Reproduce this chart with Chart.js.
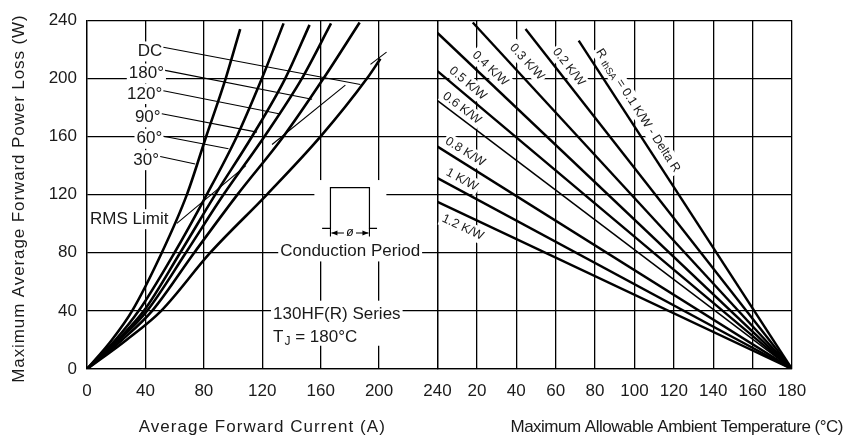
<!DOCTYPE html>
<html>
<head>
<meta charset="utf-8">
<script src="https://cdn.jsdelivr.net/npm/chart.js@4.4.1/dist/chart.umd.min.js"></script>
<style>
  html, body { margin: 0; padding: 0; background: #fff; }
  #wrap { width: 850px; height: 438px; }
</style>
</head>
<body>
<div id="wrap"><canvas id="lossChart"></canvas></div>
<script>
// tick labels
const lossTicks = [0, 40, 80, 120, 160, 200, 240];
const currentTicks = [0, 40, 80, 120, 160, 200, 240];
const ambientTicks = [0, 20, 40, 60, 80, 100, 120, 140, 160, 180];

// left panel: average current (A) read where each curve crosses these losses (W)
const lossLevels = [0, 20, 40, 80, 120, 160, 200];
const current30 = [0, 17, 30.9, 51.2, 68.4, 81.6, 95];
const current60 = [0, 19.5, 35.4, 59.9, 82, 102.6, 119.8];
const current90 = [0, 21, 38.9, 63.8, 87.8, 113, 135.8];
const current120 = [0, 22, 41.1, 67.7, 93.5, 121.5, 147.2];
const current180 = [0, 24, 44.6, 73.4, 103, 134.5, 162];
const currentDC = [0, 27, 50.8, 84.4, 123.2, 160, 191.8];
// where each curve stops
const curveEndI = [104.9, 134.6, 152.4, 167.1, 186.7, 200.9];
const curveEndP = [233.9, 237.8, 236.8, 237.8, 238.4, 213.5];

// RMS limit marks (A, W)
const rmsFromI = [61.5, 126.7, 194.1];
const rmsFromP = [100.2, 154.5, 209.6];
const rmsToI = [108.8, 176.9, 205.1];
const rmsToP = [139.9, 195.3, 218];

// conduction angle labels and their leaders, top to bottom
const angleNames = ['DC', '180°', '120°', '90°', '60°', '30°'];
const leaderFromI = [52.3, 53.5, 52.3, 51.2, 52.3, 50.1];
const leaderFromP = [221.4, 205.5, 191.5, 175.6, 160.2, 146.2];
const leaderToI = [187.2, 154.1, 132.3, 116.4, 96.9, 74.1];
const leaderToP = [195.8, 185.6, 175.4, 163, 151.6, 141];

// conduction period pulse sketch
const pulseI = [161, 166.7, 166.7, 193.4, 193.4, 198.6];
const pulseP = [96.7, 96.7, 124.8, 124.8, 96.7, 96.7];

// right panel: heatsink resistance lines, start point -> (TJ, 0)
const junctionT = 180;
const sinkNames = ['0.1', '0.2', '0.3', '0.4', '0.5', '0.6', '0.8', '1', '1.2'];
const sinkStartT = [71.7, 44.7, 17.9, 0, 0, 0, 0, 0, 0];
const sinkStartP = [226, 233.9, 238.4, 231.2, 204.9, 184.7, 153, 131.4, 115];

const FONT = "'Liberation Sans', Arial, sans-serif";
const INK = '#1a1a1a';

function pts(xs, ys) {
  return xs.map((x, i) => ({ x: x, y: ys[i] }));
}

const datasets = [];
[current30, current60, current90, current120, current180, currentDC].forEach((cur, k) => {
  const d = pts(cur, lossLevels);
  d.push({ x: curveEndI[k], y: curveEndP[k] });
  datasets.push({ data: d, xAxisID: 'xL', borderWidth: 2.6, cubicInterpolationMode: 'monotone' });
});
rmsFromI.forEach((x, k) => {
  datasets.push({ data: pts([x, rmsToI[k]], [rmsFromP[k], rmsToP[k]]), xAxisID: 'xL', borderWidth: 1.1 });
});
leaderFromI.forEach((x, k) => {
  datasets.push({ data: pts([x, leaderToI[k]], [leaderFromP[k], leaderToP[k]]), xAxisID: 'xL', borderWidth: 1.1 });
});
datasets.push({ data: pts(pulseI, pulseP), xAxisID: 'xL', borderWidth: 1.2 });
sinkNames.forEach((n, k) => {
  datasets.push({
    data: pts([sinkStartT[k], junctionT], [sinkStartP[k], 0]),
    xAxisID: 'xR',
    borderWidth: n === '0.6' ? 1.5 : 2.4
  });
});
datasets.forEach(ds => {
  ds.yAxisID = 'y';
  ds.borderColor = '#000';
  ds.pointRadius = 0;
  ds.fill = false;
});

function boxedText(ctx, text, x, y, align) {
  const w = ctx.measureText(text).width;
  const left = align === 'right' ? x - w : align === 'center' ? x - w / 2 : x;
  ctx.fillStyle = '#fff';
  ctx.fillRect(left - 2, y - 10, w + 4, 20);
  ctx.fillStyle = INK;
  ctx.textAlign = align;
  ctx.textBaseline = 'middle';
  ctx.fillText(text, x, y);
}

const notes = {
  id: 'notes',
  beforeDatasetsDraw(chart) {
    const { ctx } = chart;
    const xL = chart.scales.xL, xR = chart.scales.xR, y = chart.scales.y;
    ctx.save();
    ctx.fillStyle = '#fff';
    // clear the grid around the pulse sketch and the series note
    [[155.7, 205, 87, 130], [126, 213, 16, 47]].forEach(b => {
      const x0 = xL.getPixelForValue(b[0]), x1 = xL.getPixelForValue(b[1]);
      const y0 = y.getPixelForValue(b[3]), y1 = y.getPixelForValue(b[2]);
      ctx.fillRect(x0, y0, x1 - x0, y1 - y0);
    });

    ctx.font = '17px ' + FONT;
    const labelP = [218.5, 203.3, 189.2, 173.2, 158.4, 143.7];
    angleNames.forEach((n, k) => {
      boxedText(ctx, n, xL.getPixelForValue(leaderFromI[k] - 0.8), y.getPixelForValue(labelP[k]), 'right');
    });
    boxedText(ctx, 'RMS Limit', xL.getPixelForValue(rmsFromI[0] - 5.7), y.getPixelForValue(103.1), 'right');
    boxedText(ctx, 'Conduction Period', xL.getPixelForValue(180.2), y.getPixelForValue(80.9), 'center');
    boxedText(ctx, '130HF(R) Series', xL.getPixelForValue(127.4), y.getPixelForValue(37.4), 'left');

    // T_J = 180°C
    let tx = xL.getPixelForValue(127.4);
    const ty = y.getPixelForValue(22);
    ctx.fillStyle = INK;
    ctx.textAlign = 'left';
    ctx.textBaseline = 'middle';
    ctx.fillText('T', tx, ty);
    tx += ctx.measureText('T').width + 1;
    ctx.font = '12px ' + FONT;
    ctx.fillText('J', tx, ty + 5);
    tx += ctx.measureText('J').width;
    ctx.font = '17px ' + FONT;
    ctx.fillText(' = 180°C', tx, ty);

    // heatsink labels, turned along their lines
    const labelT = [101.8, 66.6, 45.4, 26.8, 15.4, 12.4, 14.1, 12.4, 12.9];
    const labelW = [177.9, 207.8, 211.2, 206.7, 196.5, 179.5, 149.4, 130.3, 97.4];
    sinkNames.forEach((n, k) => {
      const x0 = xR.getPixelForValue(sinkStartT[k]), y0 = y.getPixelForValue(sinkStartP[k]);
      const x1 = xR.getPixelForValue(junctionT), y1 = y.getPixelForValue(0);
      const ang = Math.atan2(y1 - y0, x1 - x0);
      const parts = k === 0
        ? [['R ', 12.5, 0], ['thSA', 9.5, 3], [' = ' + n + ' K/W - Delta R', 12.5, 0]]
        : [[n + ' K/W', 12.5, 0]];
      let total = 0;
      parts.forEach(p => { ctx.font = p[1] + 'px ' + FONT; p.push(ctx.measureText(p[0]).width); total += p[3]; });
      ctx.save();
      ctx.translate(xR.getPixelForValue(labelT[k]), y.getPixelForValue(labelW[k]));
      ctx.rotate(ang);
      ctx.fillStyle = '#fff';
      ctx.fillRect(-total / 2 - 2, -8, total + 4, 16);
      ctx.fillStyle = INK;
      ctx.textAlign = 'left';
      ctx.textBaseline = 'middle';
      let px = -total / 2;
      parts.forEach(p => {
        ctx.font = p[1] + 'px ' + FONT;
        ctx.fillText(p[0], px, p[2]);
        px += p[3];
      });
      ctx.restore();
    });
    ctx.restore();
  },
  afterDatasetsDraw(chart) {
    const { ctx } = chart;
    const xL = chart.scales.xL, y = chart.scales.y;
    ctx.save();
    // period arrows
    const a = xL.getPixelForValue(pulseI[1]), b = xL.getPixelForValue(pulseI[3]);
    const base = y.getPixelForValue(pulseP[1]);
    const ay = base + 4.5;
    const mid = (a + b) / 2;
    ctx.strokeStyle = '#000';
    ctx.fillStyle = '#000';
    ctx.lineWidth = 1.1;
    ctx.beginPath();
    ctx.moveTo(a, base); ctx.lineTo(a, base + 8);
    ctx.moveTo(b, base); ctx.lineTo(b, base + 8);
    ctx.moveTo(a + 1, ay); ctx.lineTo(mid - 6, ay);
    ctx.moveTo(mid + 6, ay); ctx.lineTo(b - 1, ay);
    ctx.stroke();
    [[a + 1, 1], [b - 1, -1]].forEach(([x, s]) => {
      ctx.beginPath();
      ctx.moveTo(x, ay);
      ctx.lineTo(x + 6 * s, ay - 2.5);
      ctx.lineTo(x + 6 * s, ay + 2.5);
      ctx.closePath();
      ctx.fill();
    });
    ctx.font = 'italic 12px ' + FONT;
    ctx.textAlign = 'center';
    ctx.textBaseline = 'middle';
    ctx.fillText('ø', mid, ay);

    // axis titles
    const area = chart.chartArea;
    ctx.fillStyle = INK;
    ctx.font = '17px ' + FONT;
    ctx.letterSpacing = '0.9px';
    ctx.save();
    ctx.translate(19, (area.top + area.bottom) / 2 + 4);
    ctx.rotate(-Math.PI / 2);
    ctx.fillText('Maximum Average Forward Power Loss (W)', 0, 0);
    ctx.restore();
    ctx.letterSpacing = '1.05px';
    ctx.fillText('Average Forward Current (A)', (xL.left + xL.right) / 2, area.bottom + 58);
    ctx.letterSpacing = '-0.5px';
    ctx.textAlign = 'right';
    ctx.fillText('Maximum Allowable Ambient Temperature (°C)', chart.width - 7, area.bottom + 58);
    ctx.restore();
  }
};

function fixedTicks(values) {
  return function (scale) { scale.ticks = values.map(v => ({ value: v })); };
}

const gridStyle = { color: '#000', lineWidth: 1.3, drawTicks: false };
const tickFont = { family: FONT, size: 17 };

new Chart(document.getElementById('lossChart'), {
  type: 'line',
  data: { datasets: datasets },
  options: {
    responsive: true,
    maintainAspectRatio: false,
    animation: false,
    layout: { padding: { left: 0, right: 58, top: 16, bottom: 0 } },
    plugins: { legend: { display: false }, tooltip: { enabled: false } },
    scales: {
      y: {
        type: 'linear', position: 'left', min: 0, max: 240,
        afterBuildTicks: fixedTicks(lossTicks),
        afterFit(s) { s.width = 87; },
        grid: gridStyle,
        border: { color: '#000', width: 1.3 },
        ticks: { color: INK, font: tickFont, padding: 10 }
      },
      xL: {
        type: 'linear', position: 'bottom', stack: 'panels', stackWeight: 350,
        min: 0, max: 240,
        afterBuildTicks: fixedTicks(currentTicks),
        afterFit(s) { s.height = 69; },
        grid: gridStyle,
        border: { color: '#000', width: 1.3 },
        ticks: { color: INK, font: tickFont, padding: 12, autoSkip: false, maxRotation: 0 }
      },
      xR: {
        type: 'linear', position: 'bottom', stack: 'panels', stackWeight: 354,
        min: 0, max: 180,
        afterBuildTicks: fixedTicks(ambientTicks),
        afterFit(s) { s.height = 69; },
        grid: gridStyle,
        border: { color: '#000', width: 1.3 },
        ticks: {
          color: INK, font: tickFont, padding: 12, autoSkip: false, maxRotation: 0,
          callback: v => (v === 0 ? '' : v)
        }
      }
    }
  },
  plugins: [notes]
});
</script>
</body>
</html>
